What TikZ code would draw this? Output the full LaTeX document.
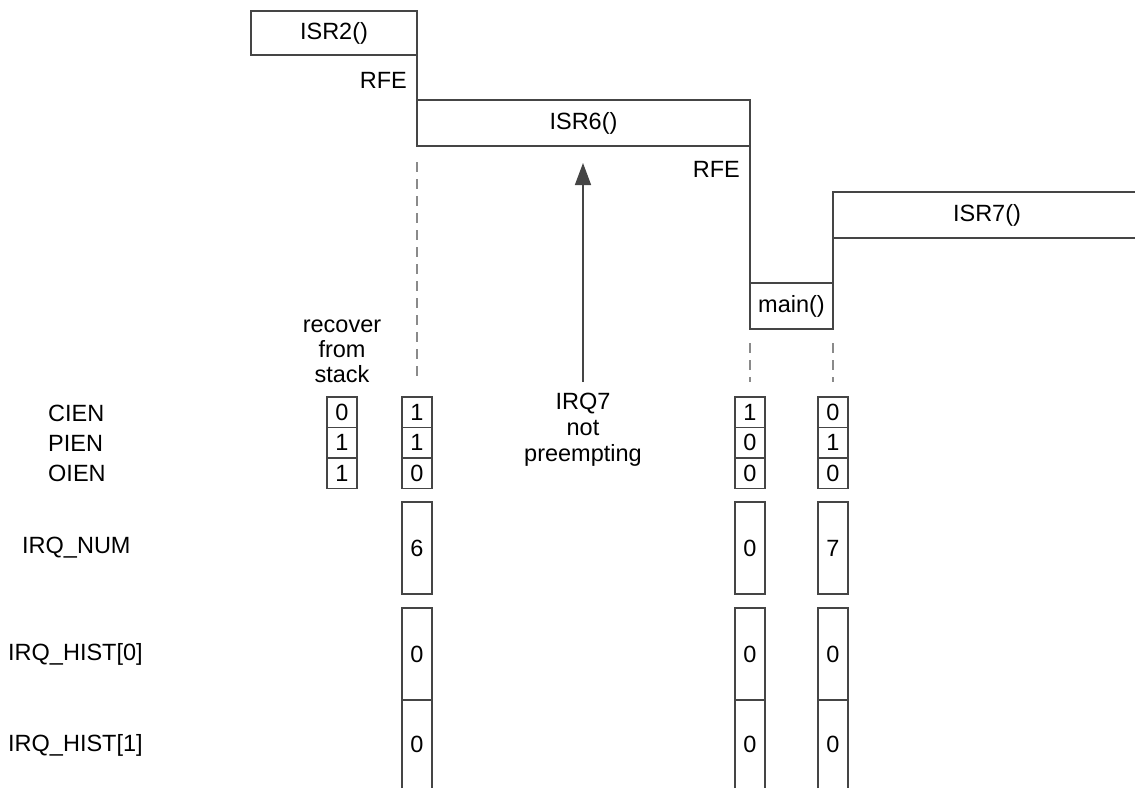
\documentclass[tikz,border=0pt]{standalone}
\usepackage{fontspec}
\setmainfont{Liberation Sans}
\usetikzlibrary{arrows.meta}
\definecolor{boxgray}{HTML}{454545}
\definecolor{dashgray}{HTML}{8A8A8A}
\begin{document}
\begin{tikzpicture}[x=1pt,y=-1pt,
  font=\fontsize{23.5}{25}\selectfont,
  outline/.style={draw=boxgray, line width=1.6pt},
  fnbox/.style={outline, rectangle, inner sep=0pt, outer sep=0pt},
  reg/.style={outline, rectangle, inner sep=0pt, outer sep=0pt, minimum width=30pt, minimum height=30.5pt},
  tallreg/.style={outline, rectangle, inner sep=0pt, outer sep=0pt, minimum width=30pt, minimum height=91.5pt},
  guide/.style={draw=dashgray, line width=1.2pt, dash pattern=on 10pt off 7pt},
  rowlabel/.style={anchor=west, inner sep=0pt},
  note/.style={align=center, inner sep=0pt}
]
\useasboundingbox (0,0) rectangle (1135,788);

% --- function boxes (staircase) ---
\node[fnbox, minimum width=166pt, minimum height=44pt] (isr2) at (334,33) {ISR2()};
\node[fnbox, minimum width=333pt, minimum height=46pt] (isr6) at (583.5,123) {ISR6()};
\node[fnbox, minimum width=83pt, minimum height=46pt] (main) at (791.5,306) {main()};
\coordinate (isr7tl) at (833,192);
\coordinate (isr7bl) at (833,238);
\coordinate (isr7tr) at (1135,192);
\coordinate (isr7br) at (1135,238);
\node[inner sep=0pt] (isr7) at (987,215) {ISR7()};
\draw[outline] (isr7tr) -- (isr7tl) -- (isr7bl) -- (isr7br);

\draw[outline] (isr2.south east) -- (isr6.north west);
\draw[outline] (isr6.south east) -- (main.north west);
\draw[outline] (main.north east) -- (isr7bl);

\node[inner sep=0pt, anchor=east] (rfe1) at (407,80) {RFE};
\node[inner sep=0pt, anchor=east] (rfe2) at (740,169) {RFE};

% --- dashed guides ---
\coordinate (g1t) at (417,162); \coordinate (g1b) at (417,380);
\coordinate (g2t) at (750,343); \coordinate (g2b) at (750,382);
\coordinate (g3t) at (833,343); \coordinate (g3b) at (833,382);
\draw[guide] (g1t) -- (g1b);
\draw[guide] (g2t) -- (g2b);
\draw[guide] (g3t) -- (g3b);

% --- IRQ7 arrow ---
\coordinate (irqfoot) at (583,382);
\coordinate (irqtip) at (583,163);
\draw[draw=boxgray, line width=1.5pt, -{Triangle[length=22pt,width=16pt]}, fill=boxgray] (irqfoot) -- (irqtip);
\node[note] (irq7) at (583,430) {IRQ7\\[1pt]not\\[1pt]preempting};

\node[note] (recover) at (342,351) {recover\\from\\stack};

% --- row labels ---
\node[rowlabel] (lcien) at (48,413) {CIEN};
\node[rowlabel] (lpien) at (48,443) {PIEN};
\node[rowlabel] (loien) at (48,473) {OIEN};
\node[rowlabel] (lnum) at (22,548) {IRQ\_NUM};
\node[rowlabel] (lh0) at (8,654) {IRQ\_HIST[0]};
\node[rowlabel] (lh1) at (8,745) {IRQ\_HIST[1]};

% --- column 0: recovered from stack ---
\node[reg] (s0c) at (342,412.25) {0};
\node[reg] (s0p) at (342,442.75) {1};
\node[reg] (s0o) at (342,473.25) {1};

% --- column 1 ---
\node[reg] (s1c) at (417,412.25) {1};
\node[reg] (s1p) at (417,442.75) {1};
\node[reg] (s1o) at (417,473.25) {0};
\node[tallreg] (s1n) at (417,548) {6};
\node[tallreg] (s1h0) at (417,654) {0};
\node[inner sep=0pt] (s1h1) at (417,744) {0};

% --- column 2 ---
\node[reg] (s2c) at (750,412.25) {1};
\node[reg] (s2p) at (750,442.75) {0};
\node[reg] (s2o) at (750,473.25) {0};
\node[tallreg] (s2n) at (750,548) {0};
\node[tallreg] (s2h0) at (750,654) {0};
\node[inner sep=0pt] (s2h1) at (750,744) {0};

% --- column 3 ---
\node[reg] (s3c) at (833,412.25) {0};
\node[reg] (s3p) at (833,442.75) {1};
\node[reg] (s3o) at (833,473.25) {0};
\node[tallreg] (s3n) at (833,548) {7};
\node[tallreg] (s3h0) at (833,654) {0};
\node[inner sep=0pt] (s3h1) at (833,744) {0};

% open-bottom IRQ_HIST[1] boxes
\draw[outline] (402,788) -- (s1h0.south west) -- (s1h0.south east) -- (432,788);
\draw[outline] (735,788) -- (s2h0.south west) -- (s2h0.south east) -- (765,788);
\draw[outline] (818,788) -- (s3h0.south west) -- (s3h0.south east) -- (848,788);
\end{tikzpicture}
\end{document}
